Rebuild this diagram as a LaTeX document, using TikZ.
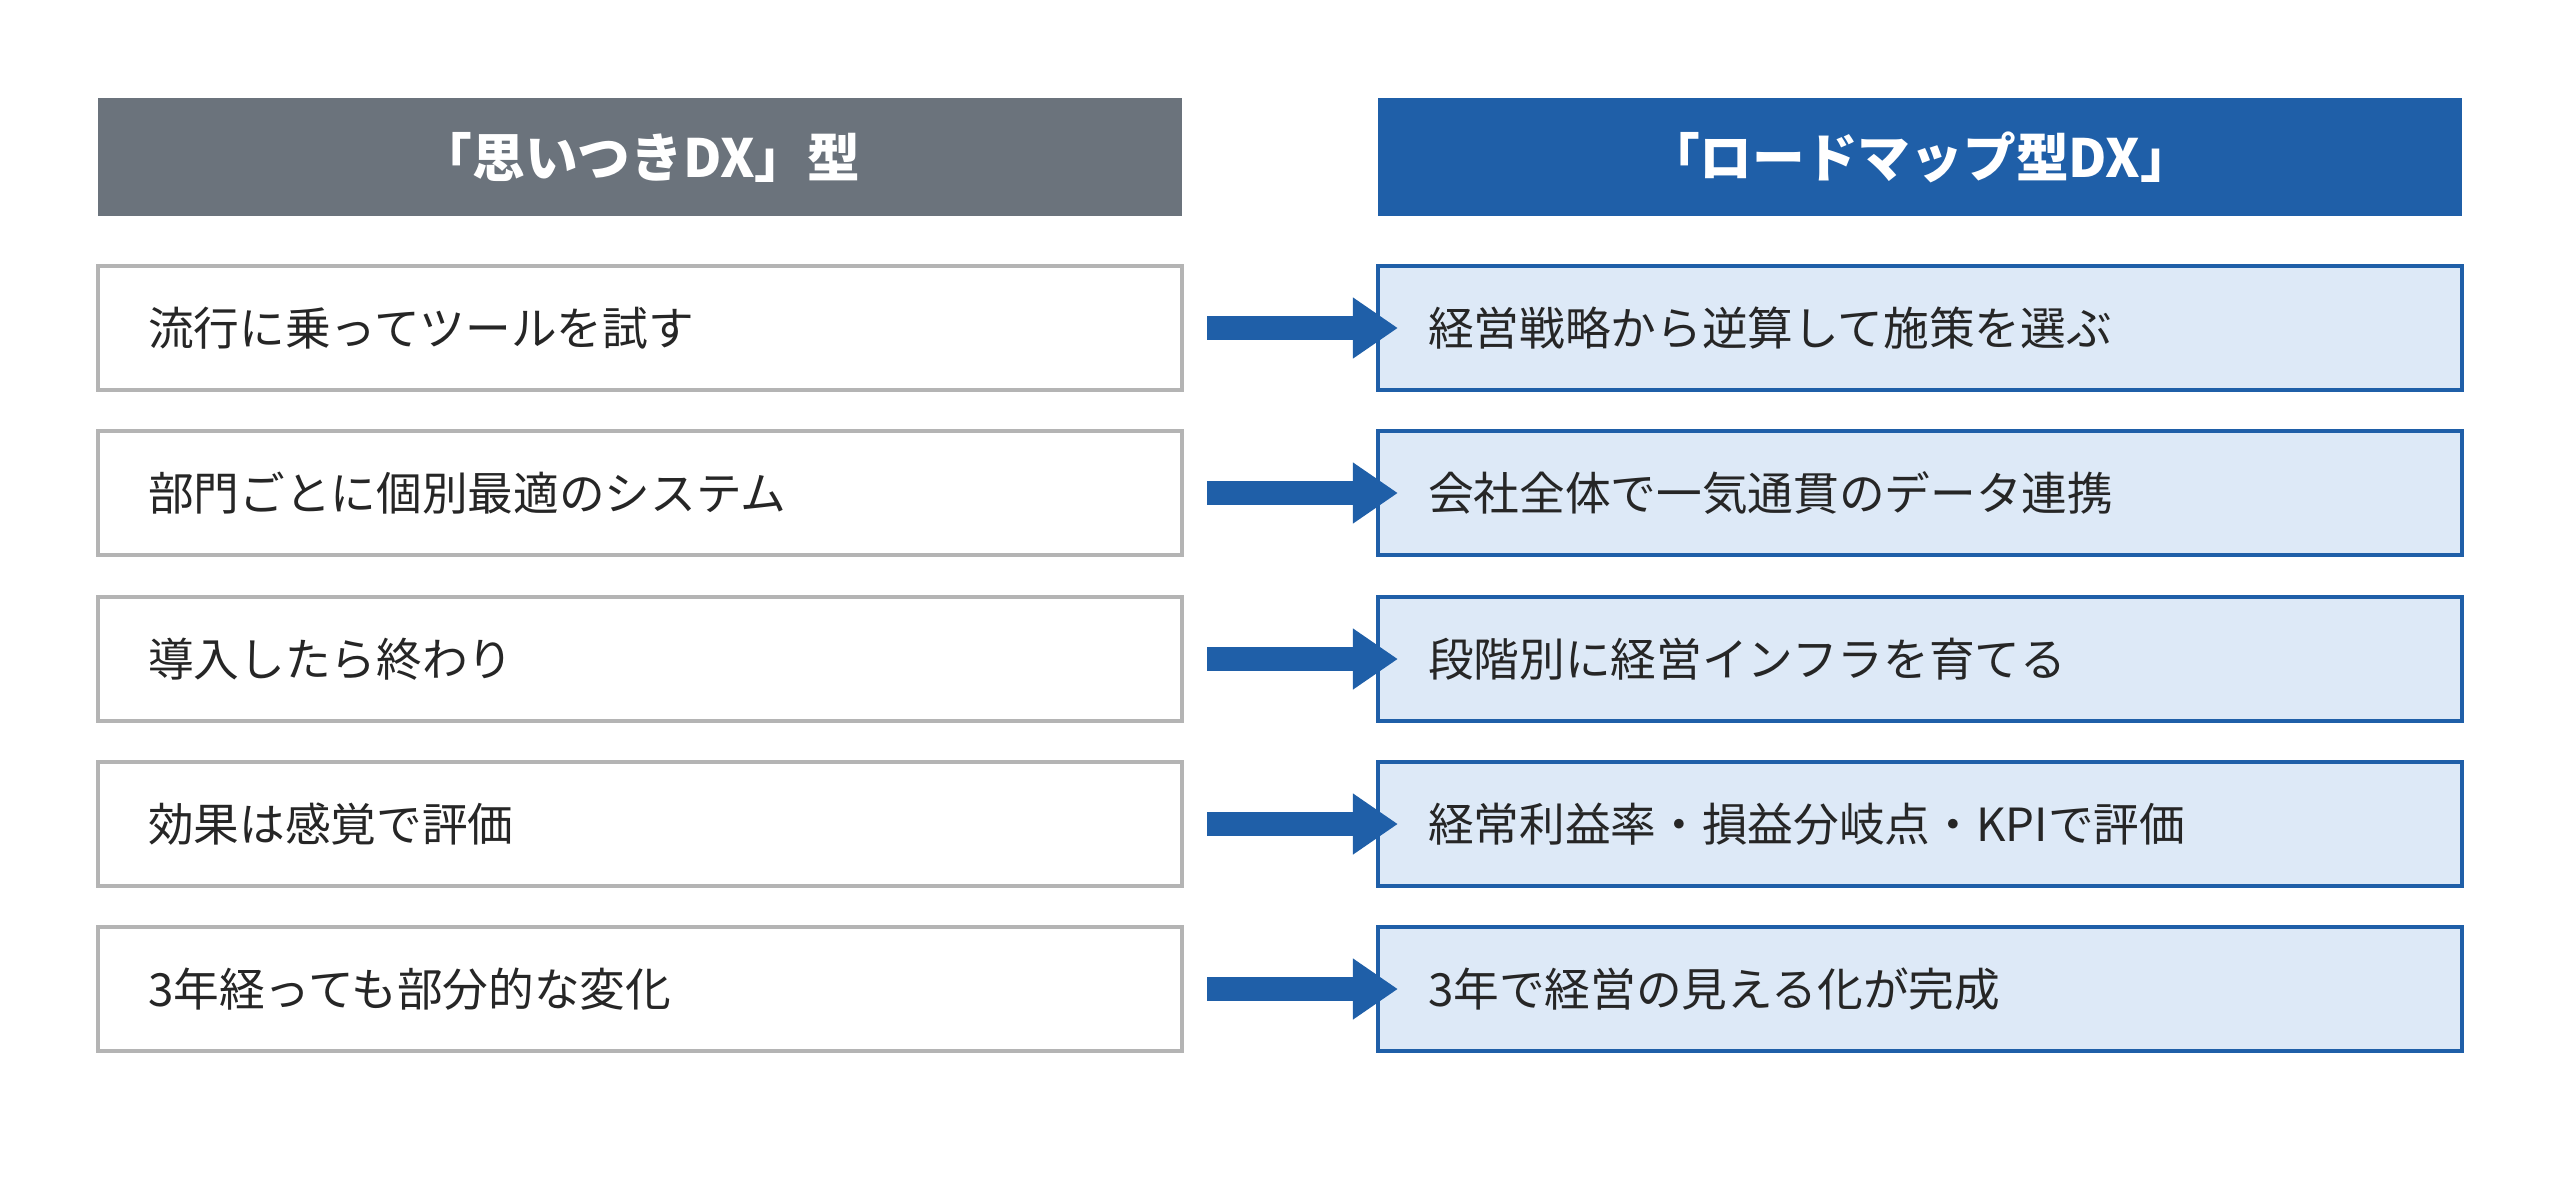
\documentclass[tikz,border=0pt]{standalone}
\usepackage{fontspec}
\setmainfont{Noto Sans CJK JP}
\usetikzlibrary{arrows.meta}
\definecolor{hdgray}{HTML}{6B737C}
\definecolor{hdblue}{HTML}{1F5FA8}
\definecolor{lightblue}{HTML}{DDE9F7}
\definecolor{boxgray}{HTML}{B4B4B4}
\tikzset{
	head/.style={minimum width=10.84cm, minimum height=1.18cm, inner sep=0pt, text=white, font=\fontsize{15}{18}\selectfont\bfseries},
	oldbox/.style={draw=boxgray, line width=1.2pt, fill=white, minimum width=10.84cm, minimum height=1.24cm, text width=9.84cm, inner xsep=0.5cm, align=left, font=\fontsize{13}{16}\selectfont, text=black!85},
	newbox/.style={oldbox, draw=hdblue, fill=lightblue},
	go/.style={draw=hdblue, line width=0.24cm, -{Triangle[length=0.45cm,width=0.58cm]}, shorten <=0.23cm, shorten >=-0.22cm}
}
\begin{document}
\begin{tikzpicture}
	\useasboundingbox (0,0) rectangle (25.6,-11.91);
	\node[head, fill=hdgray] (hl) at (6.40,-1.57) {「思いつきDX」型};
	\node[head, fill=hdblue] (hr) at (19.20,-1.57) {「ロードマップ型DX」};
	% left column
	\node[oldbox] (l1) at (6.40,-3.28) {流行に乗ってツールを試す};
	\node[oldbox] (l2) at (6.40,-4.93) {部門ごとに個別最適のシステム};
	\node[oldbox] (l3) at (6.40,-6.59) {導入したら終わり};
	\node[oldbox] (l4) at (6.40,-8.24) {効果は感覚で評価};
	\node[oldbox] (l5) at (6.40,-9.89) {3年経っても部分的な変化};
	% right column
	\node[newbox] (r1) at (19.20,-3.28) {経営戦略から逆算して施策を選ぶ};
	\node[newbox] (r2) at (19.20,-4.93) {会社全体で一気通貫のデータ連携};
	\node[newbox] (r3) at (19.20,-6.59) {段階別に経営インフラを育てる};
	\node[newbox] (r4) at (19.20,-8.24) {経常利益率・損益分岐点・KPIで評価};
	\node[newbox] (r5) at (19.20,-9.89) {3年で経営の見える化が完成};
	% arrows
	\foreach \i in {1,...,5}
		\draw[go] (l\i.east) -- (r\i.west);
\end{tikzpicture}
\end{document}
